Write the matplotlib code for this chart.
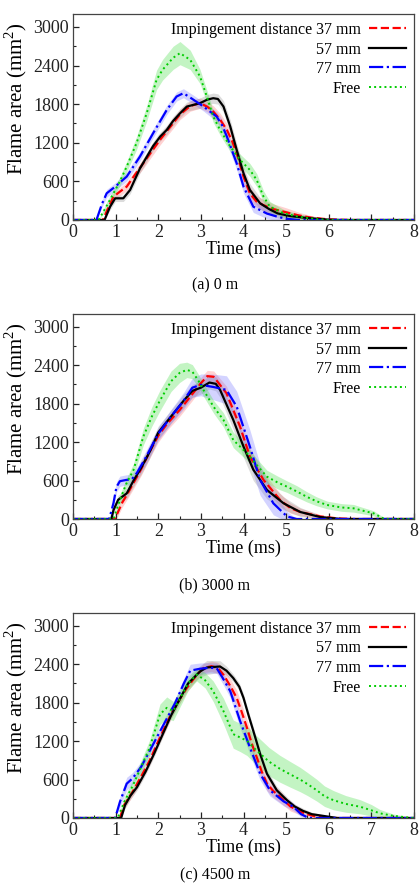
import numpy as np
import matplotlib
matplotlib.use('Agg')
import matplotlib.pyplot as plt
from matplotlib.ticker import MultipleLocator

plt.rcParams['font.family'] = ['Liberation Serif', 'DejaVu Serif']
plt.rcParams['mathtext.fontset'] = 'custom'
plt.rcParams['mathtext.rm'] = 'Liberation Serif'

# ---- data: rows are [time (ms), area (mm^2), band half-width]
# (a) 0 m
red_a = [[0, 0, 0], [0.7, 0, 0], [0.8, 150, 50], [0.95, 363, 60], [1.1, 440, 60],
         [1.26, 518, 70], [1.45, 700, 70], [1.65, 881, 80], [1.85, 1070, 80],
         [2.04, 1244, 80], [2.2, 1380, 80], [2.35, 1504, 80], [2.51, 1640, 80],
         [2.75, 1770, 80], [2.98, 1815, 80], [3.15, 1760, 80], [3.29, 1685, 90],
         [3.45, 1560, 100], [3.61, 1400, 100], [3.73, 1230, 110], [3.84, 1037, 110],
         [4.0, 674, 110], [4.15, 415, 100], [4.3, 290, 90], [4.47, 230, 90],
         [4.7, 170, 80], [5.0, 120, 70], [5.3, 70, 50], [5.6, 35, 30],
         [6.0, 10, 10], [6.5, 0, 0], [8.0, 0, 0]]
black_a = [[0, 0, 0], [0.74, 0, 0], [0.87, 207, 50], [0.99, 337, 50], [1.18, 337, 50],
           [1.34, 467, 60], [1.57, 800, 70], [1.88, 1150, 70], [2.05, 1300, 70],
           [2.2, 1400, 70], [2.35, 1540, 70], [2.5, 1650, 70], [2.67, 1762, 70],
           [2.98, 1815, 80], [3.15, 1870, 80], [3.29, 1892, 80], [3.4, 1880, 80],
           [3.53, 1763, 90], [3.69, 1451, 100], [3.84, 1089, 100], [4.0, 726, 100],
           [4.15, 467, 100], [4.39, 259, 90], [4.6, 170, 80], [4.8, 103, 70],
           [5.1, 60, 60], [5.5, 30, 40], [6.0, 5, 10], [6.3, 0, 0], [8.0, 0, 0]]
blue_a = [[0, 0, 0], [0.55, 0, 0], [0.68, 250, 50], [0.79, 415, 60], [0.99, 518, 60],
          [1.26, 674, 70], [1.57, 985, 70], [1.88, 1348, 70], [2.2, 1710, 70],
          [2.43, 1918, 70], [2.59, 1970, 70], [2.8, 1880, 70], [3.06, 1763, 70],
          [3.37, 1607, 80], [3.5, 1470, 90], [3.61, 1296, 100], [3.84, 881, 100],
          [4.0, 518, 100], [4.23, 207, 90], [4.55, 100, 80], [4.8, 50, 60],
          [5.0, 20, 40], [5.3, 0, 0], [8.0, 0, 0]]
green_a = [[0, 0, 0], [0.6, 0, 0], [0.8, 230, 60], [0.95, 415, 60], [1.1, 600, 70],
           [1.26, 829, 80], [1.49, 1193, 100], [1.73, 1659, 120], [1.96, 2177, 150],
           [2.1, 2333, 160], [2.35, 2520, 180], [2.51, 2592, 180], [2.75, 2488, 150],
           [2.98, 2229, 110], [3.14, 1918, 100], [3.29, 1607, 90], [3.45, 1400, 80],
           [3.69, 1140, 80], [3.92, 933, 90], [4.15, 778, 100], [4.31, 622, 100],
           [4.47, 363, 90], [4.62, 207, 80], [4.94, 104, 60], [5.3, 50, 40],
           [5.7, 15, 20], [6.0, 0, 0], [8.0, 0, 0]]

# (b) 3000 m
red_b = [[0, 0, 0], [0.98, 0, 0], [1.05, 100, 60], [1.15, 250, 70], [1.3, 420, 80],
         [1.45, 600, 90], [1.6, 780, 100], [1.8, 1050, 100], [2.0, 1300, 100],
         [2.2, 1480, 100], [2.5, 1700, 100], [2.8, 1950, 100], [3.0, 2120, 90],
         [3.15, 2230, 90], [3.3, 2220, 90], [3.6, 1964, 110], [3.92, 1442, 130],
         [4.15, 974, 130], [4.47, 609, 120], [4.86, 297, 100], [5.1, 170, 80],
         [5.33, 110, 60], [5.8, 40, 30], [6.2, 10, 10], [6.6, 0, 0], [8.0, 0, 0]]
black_b = [[0, 0, 0], [0.9, 0, 0], [0.95, 140, 60], [1.06, 300, 70], [1.26, 400, 80],
           [1.42, 600, 90], [1.6, 800, 100], [1.8, 1050, 100], [2.0, 1350, 100],
           [2.3, 1600, 100], [2.6, 1850, 100], [2.8, 2000, 100], [3.0, 2050, 100],
           [3.2, 2130, 100], [3.35, 2110, 110], [3.45, 2016, 120], [3.76, 1547, 150],
           [4.0, 1130, 170], [4.23, 770, 170], [4.55, 453, 140], [4.94, 245, 100],
           [5.33, 110, 70], [5.8, 30, 30], [6.3, 0, 0], [8.0, 0, 0]]
blue_b = [[0, 0, 0], [0.85, 0, 0], [0.95, 250, 70], [1.02, 500, 80], [1.1, 590, 80],
          [1.25, 610, 80], [1.38, 620, 80], [1.5, 720, 90], [1.7, 950, 100],
          [2.0, 1330, 100], [2.3, 1600, 110], [2.6, 1850, 130], [2.8, 2050, 150],
          [3.0, 2094, 170], [3.3, 2060, 200], [3.6, 2016, 220], [3.84, 1755, 240],
          [4.15, 1130, 260], [4.39, 609, 240], [4.7, 245, 180], [5.02, 40, 80],
          [5.25, 0, 0], [8.0, 0, 0]]
green_b = [[0, 0, 0], [0.95, 0, 0], [1.1, 297, 70], [1.25, 550, 80], [1.42, 766, 100],
           [1.65, 1286, 130], [1.85, 1600, 150], [2.04, 1850, 160], [2.3, 2150, 160],
           [2.5, 2280, 150], [2.67, 2328, 120], [2.8, 2300, 110], [2.95, 2150, 100],
           [3.06, 2016, 100], [3.3, 1750, 100], [3.53, 1547, 110], [3.76, 1234, 120],
           [4.08, 1026, 110], [4.3, 850, 100], [4.55, 661, 100], [4.8, 570, 100],
           [5.02, 505, 90], [5.25, 430, 90], [5.48, 348, 80], [5.7, 280, 70],
           [5.96, 219, 60], [6.3, 180, 60], [6.58, 167, 60], [6.8, 130, 50],
           [7.05, 89, 40], [7.28, 10, 20], [7.4, 0, 0], [8.0, 0, 0]]

# (c) 4500 m
red_c = [[0, 0, 0], [1.1, 0, 0], [1.2, 200, 60], [1.42, 433, 70], [1.6, 650, 70],
         [1.8, 900, 70], [2.04, 1257, 70], [2.3, 1620, 70], [2.5, 1850, 70],
         [2.67, 2030, 70], [2.9, 2230, 70], [3.06, 2340, 70], [3.25, 2370, 80],
         [3.4, 2340, 90], [3.53, 2236, 100], [3.7, 2050, 110], [3.84, 1875, 120],
         [3.96, 1650, 120], [4.08, 1411, 130], [4.2, 1150, 130], [4.31, 950, 130],
         [4.43, 720, 120], [4.55, 536, 110], [4.7, 420, 100], [4.86, 330, 90],
         [5.1, 180, 70], [5.4, 80, 50], [5.7, 20, 20], [6.0, 0, 0], [8.0, 0, 0]]
black_c = [[0, 0, 0], [1.13, 0, 0], [1.22, 200, 50], [1.35, 350, 50], [1.5, 480, 50],
           [1.7, 720, 50], [1.9, 1000, 50], [2.1, 1300, 50], [2.3, 1600, 50],
           [2.5, 1850, 60], [2.7, 2100, 70], [2.98, 2287, 90], [3.14, 2350, 110],
           [3.45, 2365, 90], [3.6, 2300, 70], [3.76, 2184, 60], [3.9, 2050, 60],
           [4.0, 1875, 60], [4.12, 1600, 60], [4.23, 1360, 60], [4.39, 1000, 60],
           [4.55, 691, 60], [4.78, 433, 60], [5.02, 278, 50], [5.2, 180, 40],
           [5.4, 110, 40], [5.6, 60, 30], [5.8, 40, 20], [6.2, 0, 0], [8.0, 0, 0]]
blue_c = [[0, 0, 0], [0.99, 0, 0], [1.1, 250, 80], [1.26, 536, 100], [1.4, 620, 90],
          [1.6, 800, 80], [1.8, 1050, 70], [2.0, 1300, 70], [2.2, 1550, 70],
          [2.4, 1800, 70], [2.6, 2100, 80], [2.75, 2300, 100], [2.98, 2330, 90],
          [3.2, 2345, 80], [3.37, 2339, 80], [3.5, 2200, 90], [3.69, 1978, 100],
          [3.92, 1515, 110], [4.15, 1102, 110], [4.39, 691, 100], [4.62, 433, 90],
          [4.94, 260, 70], [5.17, 175, 60], [5.35, 60, 40], [5.5, 10, 10],
          [5.6, 0, 0], [8.0, 0, 0]]
green_c = [[0, 0, 0], [1.05, 0, 0], [1.2, 250, 70], [1.4, 500, 90], [1.6, 800, 100],
           [1.8, 1100, 120], [2.04, 1618, 160], [2.2, 1720, 170], [2.35, 1670, 150],
           [2.5, 1850, 130], [2.7, 2100, 110], [2.9, 2240, 100], [3.1, 2150, 120],
           [3.29, 1978, 160], [3.53, 1669, 200], [3.76, 1309, 220], [3.92, 1257, 220],
           [4.08, 1206, 230], [4.31, 1051, 230], [4.6, 880, 220], [4.85, 770, 210],
           [5.1, 680, 200], [5.33, 600, 190], [5.5, 530, 180], [5.72, 433, 170],
           [5.9, 340, 160], [6.11, 278, 150], [6.4, 220, 130], [6.74, 175, 110],
           [7.0, 120, 90], [7.2, 73, 60], [7.5, 35, 30], [7.7, 20, 20], [8.0, 0, 0]]

labels = ['Impingement distance 37 mm', '57 mm', '77 mm', 'Free']
captions = ['(a) 0 m', '(b) 3000 m', '(c) 4500 m']
panels = [[red_a, black_a, blue_a, green_a],
          [red_b, black_b, blue_b, green_b],
          [red_c, black_c, blue_c, green_c]]

styles = [dict(color='#ff0000', ls='--', lw=1.6),
          dict(color='#000000', ls='-', lw=1.6),
          dict(color='#0000ff', ls='-.', lw=1.6),
          dict(color='#00cc00', ls=':', lw=1.4)]
band_colors = ['#ff6a6a', '#8c8c8c', '#7070ff', '#55e055']
band_alpha = [0.3, 0.3, 0.3, 0.35]

fig = plt.figure(figsize=(4.19, 8.89), dpi=100)
W, H = 419., 889.
# axes boxes in pixels: left, top, right, bottom
boxes = [(73, 14, 414, 220), (73, 314, 414, 519), (73, 613, 414, 818)]
cap_y = [285, 585, 875]

for k, (box, series) in enumerate(zip(boxes, panels)):
    l, t, r, b = box
    ax = fig.add_axes([l / W, 1 - b / H, (r - l) / W, (b - t) / H])
    for i, s in enumerate(series):
        s = np.array(s, dtype=float)
        ax.fill_between(s[:, 0], s[:, 1] - s[:, 2], s[:, 1] + s[:, 2],
                        color=band_colors[i], alpha=band_alpha[i], lw=0)
    for i, s in enumerate(series):
        s = np.array(s, dtype=float)
        ax.plot(s[:, 0], s[:, 1], label=labels[i], **styles[i])
    ax.set_xlim(0, 8)
    ax.set_ylim(0, 3200)
    ax.xaxis.set_major_locator(MultipleLocator(1))
    ax.xaxis.set_minor_locator(MultipleLocator(0.5))
    ax.yaxis.set_minor_locator(MultipleLocator(300))
    ax.set_yticks([0, 600, 1200, 1800, 2400, 3000])
    ax.tick_params(which='both', direction='in', labelsize=13, colors='#222222')
    ax.tick_params(which='major', length=4, width=0.9, pad=3)
    ax.tick_params(which='minor', length=2.5, width=0.8)
    for sp in ax.spines.values():
        sp.set_color('#444444')
        sp.set_linewidth(0.9)
    ax.set_xlabel('Time (ms)', fontsize=13, labelpad=0)
    ax.set_ylabel('Flame area (mm$^2$)', fontsize=15)
    ax.yaxis.set_label_coords(-0.13, 0.59)
    ax.legend(loc='upper right', frameon=False, markerfirst=False, fontsize=11.5,
              handlelength=2.3, handletextpad=0.5, labelspacing=0.22,
              borderaxespad=0.2, borderpad=0.3)
    fig.text(215 / W, 1 - cap_y[k] / H, captions[k], ha='center', va='center',
             fontsize=11.5)

fig.savefig('out.png', dpi=100)
